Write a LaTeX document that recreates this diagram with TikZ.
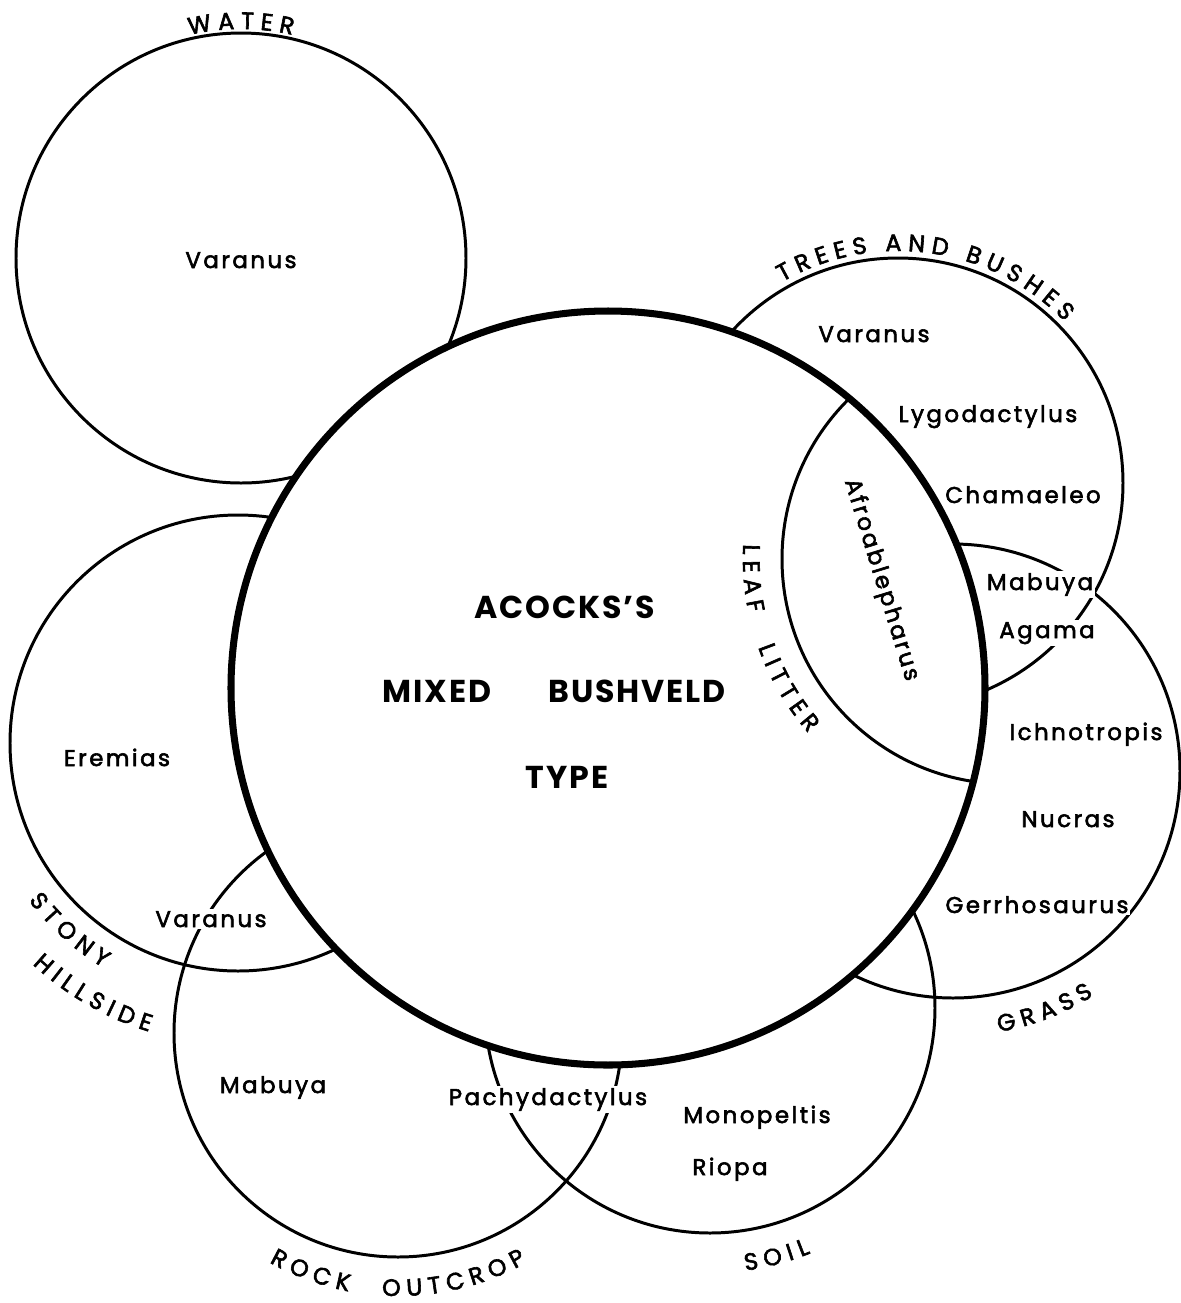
\documentclass[tikz,border=0pt]{standalone}
\usepackage{fontspec}
\setmainfont{Poppins}
\newfontfamily\genusfont{Poppins}[LetterSpace=11,FakeBold=2.5]
\newfontfamily\habitatfont{Poppins}[FakeBold=2.5]
\newfontfamily\veldfont{Poppins}[LetterSpace=6]
\usetikzlibrary{decorations.text}

\begin{document}
\begin{tikzpicture}[x=0.02cm,y=0.02cm,
        ring/.style={line width=1.7pt},
        genus/.style={font=\genusfont\fontsize{13}{15}\selectfont,fill=white,inner sep=1pt,anchor=base},
        veldtext/.style={font=\veldfont\bfseries\fontsize{18}{22}\selectfont,anchor=base},
        habitat/.style={decorate,decoration={text along path,text align=center,
            text={|\habitatfont\fontsize{13.5}{15}\selectfont|#1}}}]
        \useasboundingbox (0,0) rectangle (1181,-1303);
        \coordinate (veld) at (608,-688);
        \coordinate (water) at (241,-258);
        \coordinate (trees) at (898,-483);
        \coordinate (grass) at (953,-771);
        \coordinate (stony) at (238,-743);
        \coordinate (rock) at (398,-1033);
        \coordinate (soil) at (710,-1008);
        \coordinate (leaf) at (1007,-559);
        \draw[ring] (water) circle (225);
        \draw[ring] (trees) circle (225);
        \draw[ring] (grass) circle (227);
        \draw[ring] (stony) circle (228);
        \draw[ring] (rock) circle (224);
        \draw[ring] (soil) circle (225);
        \fill[white] (veld) circle (377);
        \begin{scope}
            \clip (veld) circle (377);
            \draw[ring] (leaf) circle (225);
        \end{scope}
        \draw[line width=4pt] (veld) circle (377);
        \path[habitat={W A T E R}] ([shift={(120:229)}]water) arc[start angle=120,end angle=60,radius=229];
        \path[habitat={T R E E S {\kern3pt} A N D {\kern3pt} B U S H E S}] ([shift={(142:232)}]trees) arc[start angle=142,end angle=22,radius=232];
        \path[habitat={G R A S S}] ([shift={(-99:265)}]grass) arc[start angle=-99,end angle=-39,radius=265];
        \path[habitat={S O I L}] ([shift={(-100:265)}]soil) arc[start angle=-100,end angle=-50,radius=265];
        \path[habitat={R O C K {\kern12pt} O U T C R O P}] ([shift={(-140:263)}]rock) arc[start angle=-140,end angle=-40,radius=263];
        \path[habitat={S T O N Y}] ([shift={(-160:262)}]stony) arc[start angle=-160,end angle=-104,radius=262];
        \path[habitat={H I L L S I D E}] ([shift={(-152:302)}]stony) arc[start angle=-152,end angle=-88,radius=302];
        \path[habitat={L E A F {\kern13pt} L I T T E R}] ([shift={(159:264)}]leaf) arc[start angle=159,end angle=239,radius=264];
        \node[veldtext] (acocks) at (565,-618) {ACOCKS’S};
        \node[veldtext] (mixed) at (437,-702) {MIXED};
        \node[veldtext] (bushveld) at (637,-702) {BUSHVELD};
        \node[veldtext] (type) at (567,-788) {TYPE};
        \node[genus] (wVaranus) at (241,-268) {Varanus};
        \node[genus] (tVaranus) at (874,-342) {Varanus};
        \node[genus] (tLygo) at (988,-422) {Lygodactylus};
        \node[genus] (tChamaeleo) at (1023,-503) {Chamaeleo};
        \node[genus] (tMabuya) at (1040,-590) {Mabuya};
        \node[genus] (tAgama) at (1047,-638) {Agama};
        \node[genus,anchor=center,rotate=-73] (lAfro) at (881,-580) {Afroablepharus};
        \node[genus] (gIchno) at (1086,-740) {Ichnotropis};
        \node[genus] (gNucras) at (1068,-827) {Nucras};
        \node[genus] (gGerrho) at (1037,-913) {Gerrhosaurus};
        \node[genus] (sEremias) at (117,-766) {Eremias};
        \node[genus] (sVaranus) at (211,-927) {Varanus};
        \node[genus] (rMabuya) at (273,-1093) {Mabuya};
        \node[genus] (rPachy) at (548,-1105) {Pachydactylus};
        \node[genus] (oMonopeltis) at (757,-1123) {Monopeltis};
        \node[genus] (oRiopa) at (730,-1175) {Riopa};
\end{tikzpicture}
\end{document}
